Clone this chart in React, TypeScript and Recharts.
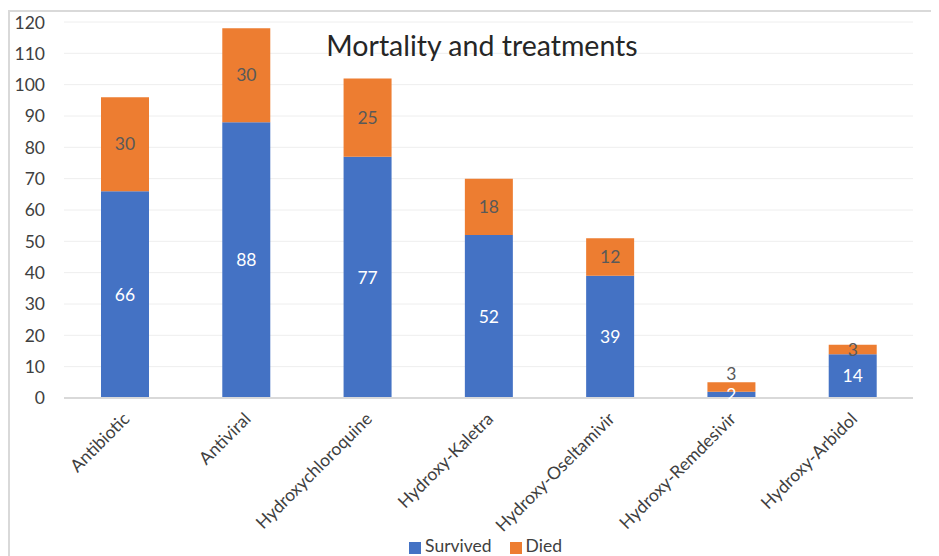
import { BarChart, Bar, XAxis, YAxis, CartesianGrid, Legend, LabelList } from 'recharts';

const treatments = [
  'Antibiotic',
  'Antiviral',
  'Hydroxychloroquine',
  'Hydroxy-Kaletra',
  'Hydroxy-Oseltamivir',
  'Hydroxy-Remdesivir',
  'Hydroxy-Arbidol',
];
const survived = [66, 88, 77, 52, 39, 2, 14];
const died = [30, 30, 25, 18, 12, 3, 3];
const yTicks = [0, 10, 20, 30, 40, 50, 60, 70, 80, 90, 100, 110, 120];

const FONT = 'Lato, "Open Sans", sans-serif';

// tabela montada a partir dos arrays acima
const data = treatments.map((name, i) => ({ name, survived: survived[i], died: died[i] }));

function AngledTick({ x, y, payload }: any) {
  return (
    <text
      x={x + 6}
      y={y + 14}
      transform={`rotate(-45, ${x + 6}, ${y + 14})`}
      textAnchor="end"
      fontSize={17.5}
      fill="#404040"
      fontFamily={FONT}
    >
      {payload.value}
    </text>
  );
}

// rótulo do "Died": sobe quando o segmento de baixo é pequeno demais (evita sobreposição)
function DiedLabel({ x, y, width, height, value, index }: any) {
  const perUnit = value ? height / value : 0;
  const belowH = perUnit * survived[index];
  const cy = belowH < 12 ? y - 8 : y + height / 2;
  return (
    <text
      x={x + width / 2}
      y={cy}
      dy="0.35em"
      textAnchor="middle"
      fontSize={17.5}
      fill="#595959"
      fontFamily={FONT}
    >
      {value}
    </text>
  );
}

const legendOrder: Record<string, number> = { Survived: 0, Died: 1 };

export default function App() {
  return (
    <div
      style={{
        position: 'relative',
        width: 931,
        height: 546,
        marginTop: 2,
        borderTop: '2px solid #d9d9d9',
        borderLeft: '2px solid #d9d9d9',
        boxSizing: 'border-box',
        fontFamily: FONT,
      }}
    >
      <div
        style={{
          position: 'absolute',
          left: 0,
          width: 944,
          top: 16,
          textAlign: 'center',
          fontSize: 28.5,
          color: '#262626',
          zIndex: 1,
        }}
      >
        Mortality and treatments
      </div>
      <BarChart
        width={929}
        height={544}
        data={data}
        margin={{ top: 10, right: 26, left: 14, bottom: 0 }}
        barSize={48}
      >
        <CartesianGrid vertical={false} stroke="#eeeeee" />
        <XAxis
          dataKey="name"
          interval={0}
          height={128}
          axisLine={{ stroke: '#d9d9d9', strokeWidth: 2 }}
          tickLine={false}
          tick={<AngledTick />}
        />
        <YAxis
          width={40}
          domain={[0, 120]}
          ticks={yTicks}
          axisLine={false}
          tickLine={false}
          tickSize={0}
          tickMargin={19}
          tick={{ fontSize: 17.5, fill: '#404040', fontFamily: FONT }}
        />
        <Legend
          verticalAlign="bottom"
          height={30}
          iconType="square"
          iconSize={12}
          itemSorter={(item: any) => legendOrder[item.value] ?? 0}
          wrapperStyle={{ bottom: -9, left: 36 }}
          formatter={(value: any) => (
            <span style={{ color: '#404040', fontSize: 17.5, marginRight: value === 'Survived' ? 8 : 0 }}>
              {value}
            </span>
          )}
        />
        <Bar dataKey="survived" name="Survived" stackId="a" fill="#4472C4" isAnimationActive={false}>
          <LabelList dataKey="survived" position="center" fill="#ffffff" fontSize={17.5} fontFamily={FONT} />
        </Bar>
        <Bar dataKey="died" name="Died" stackId="a" fill="#ED7D31" isAnimationActive={false}>
          <LabelList dataKey="died" content={<DiedLabel />} />
        </Bar>
      </BarChart>
    </div>
  );
}
